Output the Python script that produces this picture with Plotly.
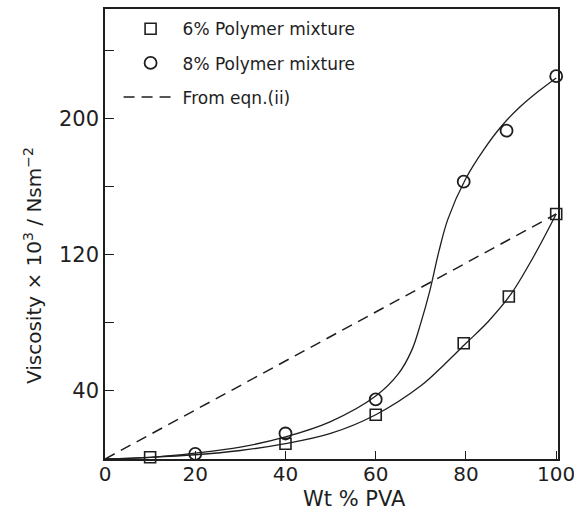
import plotly.graph_objects as go

# ---- data ----
pva_6 = [10, 40, 60, 79.5, 89.5, 100]
visc_6 = [1, 9, 26, 68, 95.5, 144]

pva_8 = [20, 40, 60, 79.5, 89, 100]
visc_8 = [3, 15, 35, 163, 193, 225]

# smooth hand-drawn curves
fit6_x = [0, 10, 20, 30, 40, 50, 60, 70, 75, 80, 85, 90, 95, 100]
fit6_y = [0, 1, 2.5, 5, 9, 15, 26, 43, 55, 68, 81, 97, 119, 144]

fit8_x = [0, 10, 20, 30, 40, 50, 60, 65, 68, 70, 72, 74, 76, 80, 84, 88, 92, 96, 100]
fit8_y = [0, 1, 3.5, 7, 13, 22, 37, 50, 64, 80, 99, 122, 141, 165, 182, 196, 207, 216, 224]

eqn_x = [0, 100]
eqn_y = [0, 144]

x_ticks = [0, 20, 40, 60, 80, 100]
y_ticks = [40, 80, 120, 160, 200, 240]
y_ticktext = ["40", "", "120", "", "200", ""]

INK = "#1e1e1e"
FONT = "DejaVu Sans"

fig = go.Figure()

fig.add_trace(go.Scatter(x=fit6_x, y=fit6_y, mode="lines", line=dict(color=INK, width=1.3, shape="spline", smoothing=1.0),
                         showlegend=False, hoverinfo="skip"))
fig.add_trace(go.Scatter(x=fit8_x, y=fit8_y, mode="lines", line=dict(color=INK, width=1.3, shape="spline", smoothing=1.0),
                         showlegend=False, hoverinfo="skip"))

fig.add_trace(go.Scatter(x=pva_6, y=visc_6, mode="markers", name="6% Polymer mixture", legendgroup="a",
                         marker=dict(symbol="square-open", size=11, color=INK, line=dict(width=1.6, color=INK)),
                         cliponaxis=False))
fig.add_trace(go.Scatter(x=pva_8, y=visc_8, mode="markers", name="8% Polymer mixture", legendgroup="b",
                         marker=dict(symbol="circle-open", size=12, color=INK, line=dict(width=1.8, color=INK)),
                         cliponaxis=False))
fig.add_trace(go.Scatter(x=eqn_x, y=eqn_y, mode="lines", name="From eqn.(ii)", legendgroup="c",
                         line=dict(color=INK, width=1.5, dash="11px,7px")))

fig.update_layout(
    width=574, height=510,
    margin=dict(l=105, r=16, t=9, b=51, autoexpand=False),
    paper_bgcolor="white", plot_bgcolor="white",
    font=dict(family=FONT, color=INK, size=18),
    showlegend=True,
    legend=dict(x=0.03, y=0.995, xanchor="left", yanchor="top", bgcolor="rgba(0,0,0,0)",
                font=dict(family=FONT, size=17, color=INK), tracegroupgap=9, itemwidth=54,
                traceorder="grouped"),
    xaxis=dict(range=[0, 100.4], tickvals=x_ticks, ticks="inside", ticklen=8, tickwidth=1.4, tickcolor=INK,
               showline=True, linecolor=INK, linewidth=1.5, mirror=True, showgrid=False, zeroline=False,
               ticklabeloverflow="allow", automargin=False, ticklabelstandoff=-4,
               tickfont=dict(family=FONT, size=20, color=INK)),
    yaxis=dict(range=[0, 264.5], tickvals=y_ticks, ticktext=y_ticktext, ticks="inside", ticklen=9, tickwidth=1.4,
               tickcolor=INK, showline=True, linecolor=INK, linewidth=1.5, mirror=True, showgrid=False,
               zeroline=False, automargin=False, tickfont=dict(family=FONT, size=21, color=INK)),
    annotations=[
        dict(text="Wt % PVA", xref="paper", yref="paper", x=0.55, y=-0.088, xanchor="center", yanchor="middle",
             showarrow=False, font=dict(family=FONT, size=21, color=INK)),
        dict(text="Viscosity × 10<sup>3</sup> / Nsm<sup>−2</sup>", xref="paper", yref="paper", x=-0.16, y=0.43,
             xanchor="center", yanchor="middle", textangle=-90, showarrow=False,
             font=dict(family=FONT, size=20, color=INK)),
    ],
)

fig.write_html("out.html")
